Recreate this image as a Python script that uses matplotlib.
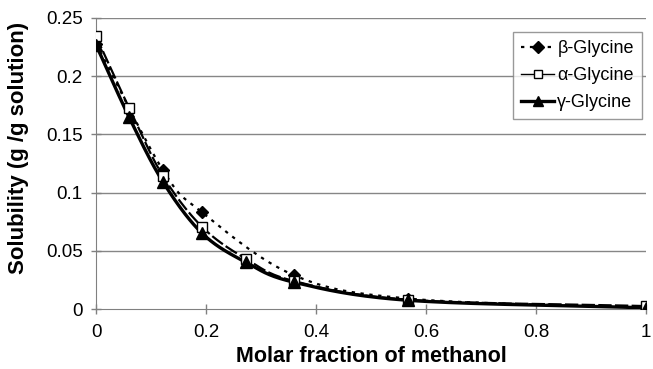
import matplotlib
matplotlib.use('Agg')
import matplotlib.pyplot as plt
from matplotlib.lines import Line2D
import numpy as np

plt.rcParams['font.family'] = ['Liberation Sans', 'DejaVu Sans']

x_beta = [0.0, 0.122, 0.193, 0.36, 0.567, 1.0]
beta = [0.228, 0.119, 0.083, 0.029, 0.009, 0.001]
x = [0.0, 0.06, 0.122, 0.193, 0.273, 0.36, 0.567, 1.0]
alpha = [0.2345, 0.173, 0.114, 0.0705, 0.043, 0.024, 0.008, 0.0025]
gamma = [0.227, 0.165, 0.109, 0.065, 0.040, 0.023, 0.0075, 0.001]
labels = ['β-Glycine', 'α-Glycine', 'γ-Glycine']


def smooth(xs, ys, n=30):
    # Catmull-Rom style smoothing, like Excel's smoothed lines
    xs = np.asarray(xs, float)
    ys = np.asarray(ys, float)
    px = np.concatenate([[2 * xs[0] - xs[1]], xs, [2 * xs[-1] - xs[-2]]])
    py = np.concatenate([[2 * ys[0] - ys[1]], ys, [2 * ys[-1] - ys[-2]]])
    ox, oy = [], []
    t = np.linspace(0, 1, n)
    for i in range(1, len(px) - 2):
        p0, p1, p2, p3 = [np.array([px[j], py[j]]) for j in range(i - 1, i + 3)]
        c1 = p1 + (p2 - p0) / 6
        c2 = p2 - (p3 - p1) / 6
        b = (np.outer((1 - t) ** 3, p1) + np.outer(3 * (1 - t) ** 2 * t, c1)
             + np.outer(3 * (1 - t) * t ** 2, c2) + np.outer(t ** 3, p2))
        ox.extend(b[:, 0])
        oy.extend(b[:, 1])
    return ox, oy


fig = plt.figure(figsize=(6.53, 3.69), dpi=100)
ax = fig.add_axes([96 / 653, 1 - 309 / 369, 550 / 653, 291 / 369])

for y in [0.05, 0.1, 0.15, 0.2, 0.25]:
    ax.axhline(y, color='#868686', lw=1.0, zorder=0)

dots = (0, (1.5, 2.5))
dashes = (0, (6, 1.5))

sx, sy = smooth(x_beta, beta)
ax.plot(sx, sy, color='black', lw=1.6, ls=dots, zorder=3)
ax.plot(x_beta, beta, 'D', color='black', ms=6, ls='none', zorder=4)
sx, sy = smooth(x, alpha)
ax.plot(sx, sy, color='black', lw=1.6, ls=dashes, zorder=3)
ax.plot(x, alpha, 's', mfc='white', mec='black', mew=1.0, ms=7, ls='none', zorder=4)
sx, sy = smooth(x, gamma)
ax.plot(sx, sy, color='black', lw=2.4, zorder=3)
ax.plot(x, gamma, '^', color='black', ms=8, ls='none', zorder=5)

handles = [
    Line2D([], [], color='black', lw=1.6, ls=dots, marker='D', ms=6),
    Line2D([], [], color='black', lw=1.0, marker='s', mfc='white', ms=6),
    Line2D([], [], color='black', lw=2.4, marker='^', ms=7),
]
leg = ax.legend(handles, labels, loc='upper right',
                bbox_to_anchor=(642 / 653, 1 - 32 / 369),
                bbox_transform=fig.transFigure,
                fontsize=13, frameon=True, fancybox=False, handlelength=1.8,
                handletextpad=0.2, borderpad=0.45, labelspacing=0.55,
                borderaxespad=0)
leg.get_frame().set_edgecolor('#808080')
leg.get_frame().set_linewidth(1.0)

ax.set_xlim(0, 1)
ax.set_ylim(0, 0.25)
ax.set_xticks([0, 0.2, 0.4, 0.6, 0.8, 1])
ax.set_xticklabels(['0', '0.2', '0.4', '0.6', '0.8', '1'])
ax.set_yticks([0, 0.05, 0.1, 0.15, 0.2, 0.25])
ax.set_yticklabels(['0', '0.05', '0.1', '0.15', '0.2', '0.25'])
ax.tick_params(labelsize=13.5, length=7, width=1.0, color='#808080', direction='inout')
ax.tick_params(axis='x', pad=7)
ax.tick_params(axis='y', pad=6)
for s in ['top', 'right']:
    ax.spines[s].set_visible(False)
for s in ['left', 'bottom']:
    ax.spines[s].set_color('#808080')

fig.text(371 / 653, 1 - 357 / 369, 'Molar fraction of methanol', fontsize=15.5,
         fontweight='bold', ha='center', va='center')
fig.text(19 / 653, 1 - 148 / 369, 'Solubility (g /g solution)', fontsize=16,
         fontweight='bold', ha='center', va='center', rotation=90)

fig.savefig('out.png', dpi=100)
